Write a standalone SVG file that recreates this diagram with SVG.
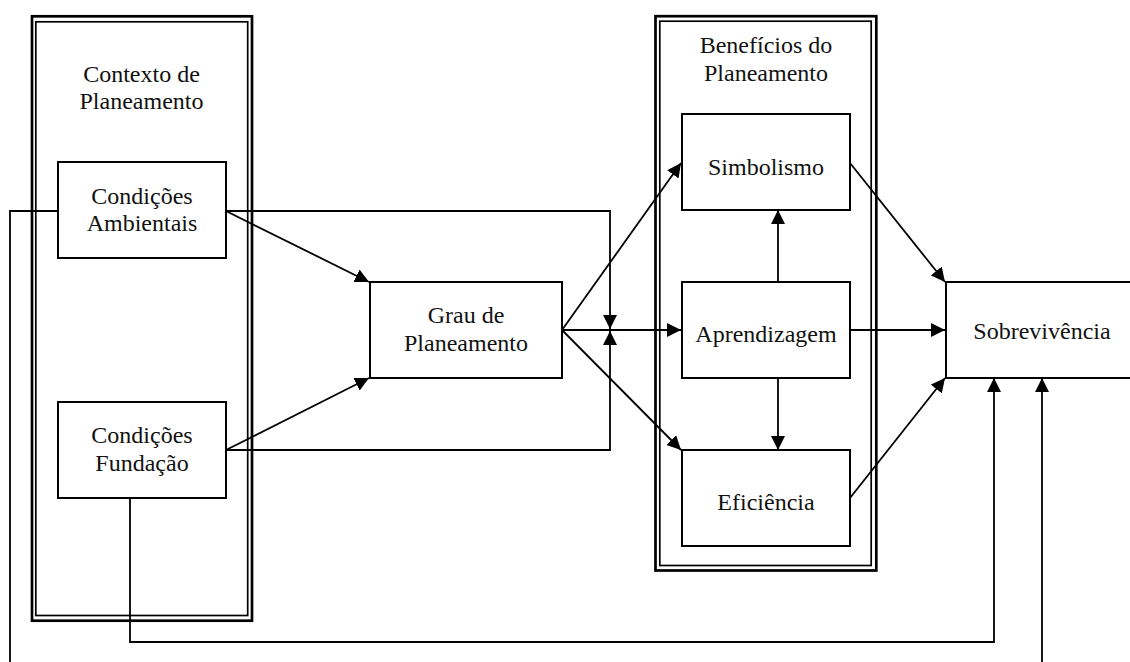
<svg xmlns="http://www.w3.org/2000/svg" width="1130" height="662" viewBox="0 0 1130 662">
<defs>
<marker id="arr" markerUnits="userSpaceOnUse" markerWidth="14" markerHeight="14" refX="14" refY="7" orient="auto">
<path d="M0,0 L14,7 L0,14 z" fill="#000"/>
</marker>
<style>
.outer{fill:none;stroke:#000;stroke-width:2.7}
.inner{fill:none;stroke:#000;stroke-width:1.7}
.box{fill:#fff;stroke:#000;stroke-width:2}
.con{fill:none;stroke:#000;stroke-width:1.8}
.arrow{marker-end:url(#arr)}
text{font-family:"Liberation Serif","Times New Roman",serif;font-size:24px;fill:#111;text-anchor:middle}
</style>
</defs>
<rect width="1130" height="662" fill="#fff"/>
<g id="contexto">
<rect class="outer" x="32" y="16.3" width="220" height="604.4"/>
<rect class="inner" x="35.8" y="21.8" width="211.9" height="593.7"/>
<text x="141.5" y="82">Contexto de</text>
<text x="141.5" y="109">Planeamento</text>
</g>
<g id="beneficios">
<rect class="outer" x="655.5" y="16.2" width="220.8" height="554.3"/>
<rect class="inner" x="659.8" y="21.2" width="211.4" height="544.3"/>
<text x="766" y="53">Benefícios do</text>
<text x="766" y="81">Planeamento</text>
</g>
<g id="connectors">
<path class="con" d="M58,211 H10 V700 H1042 V378" marker-end="url(#arr)"/>
<path class="con arrow" d="M226,211 H610 V329"/>
<path class="con arrow" d="M226,450 H610 V331"/>
<path class="con arrow" d="M226,211 L369,282"/>
<path class="con arrow" d="M226,450 L369,378"/>
<path class="con arrow" d="M130,498 V642 H994 V378"/>
<path class="con arrow" d="M562,330 H681"/>
<path class="con arrow" d="M562,330 L681,163"/>
<path class="con arrow" d="M562,330 L681,450"/>
<path class="con arrow" d="M778,282 V210"/>
<path class="con arrow" d="M778,378 V450"/>
<path class="con arrow" d="M850,330 H945"/>
<path class="con arrow" d="M850,163 L945,282"/>
<path class="con arrow" d="M850,498 L945,378"/>
</g>
<g id="ambientais">
<rect class="box" x="58" y="162" width="168" height="96"/>
<text x="142" y="204">Condições</text>
<text x="142" y="231">Ambientais</text>
</g>
<g id="fundacao">
<rect class="box" x="58" y="402" width="168" height="96"/>
<text x="142" y="443">Condições</text>
<text x="142" y="471">Fundação</text>
</g>
<g id="grau">
<rect class="box" x="370" y="282" width="192" height="96"/>
<text x="466" y="323">Grau de</text>
<text x="466" y="351">Planeamento</text>
</g>
<g id="simbolismo">
<rect class="box" x="682" y="114" width="168" height="96"/>
<text x="766" y="175">Simbolismo</text>
</g>
<g id="aprendizagem">
<rect class="box" x="682" y="282" width="168" height="96"/>
<text x="766" y="342">Aprendizagem</text>
</g>
<g id="eficiencia">
<rect class="box" x="682" y="450" width="168" height="96"/>
<text x="766" y="510">Eficiência</text>
</g>
<g id="sobrevivencia">
<rect class="box" x="946" y="282" width="200" height="96"/>
<text x="1042" y="339">Sobrevivência</text>
</g>
</svg>
